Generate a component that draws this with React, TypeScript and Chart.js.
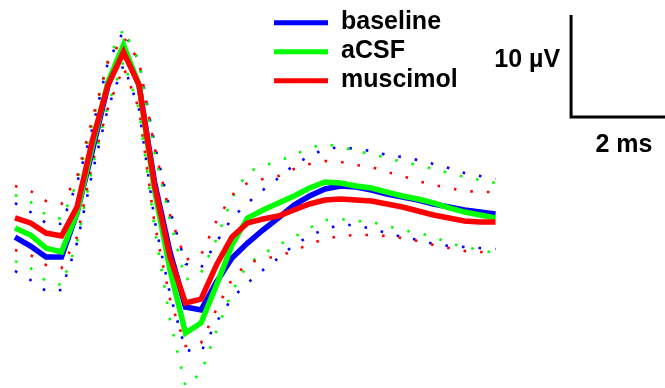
import React, { useEffect, useRef } from "react";
import { Chart, registerables } from "chart.js";

Chart.register(...registerables);

// Time of each sample (ms)
const timeMs = [
  0, 0.32, 0.64, 0.96, 1.28, 1.6, 1.92, 2.24, 2.56, 2.88, 3.2, 3.52, 3.84, 4.16, 4.48, 4.8,
  5.12, 5.44, 5.76, 6.08, 6.4, 6.72, 7.04, 7.36, 7.68, 8.0, 8.32, 8.64, 8.96, 9.28, 9.6, 9.92,
];

// Mean waveforms (µV)
const baselineMean = [
  -3.63, -4.51, -5.59, -5.59, -1.27, 4.9, 11.27, 14.9, 11.27, 1.76, -5.1, -10.49, -10.78, -8.04, -5.69, -4.22,
  -2.94, -1.76, -0.49, 0.39, 1.08, 1.37, 1.27, 0.98, 0.59, 0.29, 0.0, -0.39, -0.69, -0.98, -1.18, -1.37,
];
const acsfMean = [
  -2.75, -3.43, -4.71, -5.1, -1.27, 5.39, 11.57, 15.2, 11.27, 0.98, -6.86, -13.04, -12.06, -8.33, -4.41, -1.76,
  -0.98, -0.29, 0.39, 1.18, 1.76, 1.67, 1.37, 1.18, 0.78, 0.39, 0.1, -0.29, -0.78, -1.18, -1.47, -1.76,
];
const muscimolMean = [
  -1.76, -2.25, -3.24, -3.53, -0.69, 5.88, 11.27, 14.51, 11.27, 1.47, -5.59, -10.1, -9.71, -6.37, -3.63, -2.25,
  -1.86, -1.57, -0.98, -0.39, 0.0, 0.1, 0.0, -0.1, -0.39, -0.69, -1.08, -1.47, -1.76, -2.06, -2.16, -2.16,
];

// Standard error of the mean (µV)
const baselineSem = [
  3.33, 3.33, 3.33, 3.24, 2.94, 2.16, 2.25, 1.67, 2.35, 3.73, 4.12, 4.22, 4.12, 3.92, 3.92, 3.92,
  3.92, 3.92, 3.92, 3.92, 3.92, 3.82, 3.73, 3.82, 3.82, 3.92, 3.92, 3.92, 3.82, 3.63, 3.53, 3.43,
];
const acsfSem = [
  3.24, 3.24, 3.24, 3.24, 2.94, 2.16, 2.25, 1.57, 2.35, 3.73, 4.9, 5.2, 4.9, 4.51, 4.61, 4.51,
  4.31, 4.12, 4.02, 3.92, 3.73, 3.53, 3.43, 3.33, 3.33, 3.33, 3.33, 3.33, 3.43, 3.43, 3.43, 3.43,
];
const muscimolSem = [
  3.14, 3.14, 3.14, 3.14, 2.94, 2.16, 2.25, 1.47, 2.35, 3.73, 4.12, 4.22, 4.31, 4.31, 4.12, 3.92,
  3.92, 3.92, 4.02, 3.92, 3.82, 3.63, 3.43, 3.33, 3.14, 3.04, 2.94, 2.94, 2.94, 2.94, 2.94, 2.94,
];

const seriesNames = ["baseline", "aCSF", "muscimol"];
const seriesColors = ["#0000ff", "#00ff00", "#ff0000"];

// Scale bar (data units)
const scaleBarStartMs = 11.48;
const scaleBarStartUv = 8.14;
const scaleBarMs = 2;
const scaleBarUv = 10;

const W = 665;
const H = 388;
const FONT = "bold 25px 'Liberation Sans', Arial, sans-serif";

function toPoints(values: number[]) {
  return values.map((v, i) => ({ x: timeMs[i], y: v }));
}

const overlayPlugin = {
  id: "overlay",
  afterDraw(chart: any) {
    const ctx = chart.ctx as CanvasRenderingContext2D;
    const xs = chart.scales.x;
    const ys = chart.scales.y;
    ctx.save();
    // legend
    const legendY = [22.7, 51.7, 80.7];
    seriesNames.forEach((name, i) => {
      ctx.strokeStyle = seriesColors[i];
      ctx.lineWidth = 5;
      ctx.lineCap = "butt";
      ctx.beginPath();
      ctx.moveTo(274, legendY[i]);
      ctx.lineTo(328, legendY[i]);
      ctx.stroke();
      ctx.fillStyle = "#000";
      ctx.font = FONT;
      ctx.textAlign = "left";
      ctx.textBaseline = "alphabetic";
      ctx.fillText(name, 341, legendY[i] + 6);
    });
    // scale bar
    const x0 = xs.getPixelForValue(scaleBarStartMs);
    const x1 = xs.getPixelForValue(scaleBarStartMs + scaleBarMs);
    const y0 = ys.getPixelForValue(scaleBarStartUv);
    const y1 = ys.getPixelForValue(scaleBarStartUv + scaleBarUv);
    ctx.strokeStyle = "#000";
    ctx.lineWidth = 3;
    ctx.lineCap = "butt";
    ctx.lineJoin = "miter";
    ctx.beginPath();
    ctx.moveTo(x0, y1);
    ctx.lineTo(x0, y0);
    ctx.lineTo(x1, y0);
    ctx.stroke();
    ctx.fillStyle = "#000";
    ctx.font = FONT;
    ctx.textAlign = "right";
    ctx.fillText("10 µV", x0 - 11, 67);
    ctx.textAlign = "center";
    ctx.fillText("2 ms", 624, 152);
    ctx.restore();
  },
};

export default function App() {
  const ref = useRef<HTMLCanvasElement | null>(null);
  useEffect(() => {
    if (!ref.current) return;
    const means = [baselineMean, acsfMean, muscimolMean];
    const sems = [baselineSem, acsfSem, muscimolSem];
    const datasets: any[] = [];
    means.forEach((m, i) => {
      const upper = m.map((v, j) => v + sems[i][j]);
      const lower = m.map((v, j) => v - sems[i][j]);
      [upper, lower].forEach((b, k) => {
        datasets.push({
          label: seriesNames[i] + (k === 0 ? " +SEM" : " -SEM"),
          data: toPoints(b),
          borderColor: seriesColors[i],
          borderWidth: 2.6,
          borderDash: [2.6, 14],
          borderCapStyle: "butt",
          pointRadius: 0,
          fill: false,
          tension: 0,
          order: 10 - i,
        });
      });
    });
    means.forEach((m, i) => {
      datasets.push({
        label: seriesNames[i],
        data: toPoints(m),
        borderColor: seriesColors[i],
        borderWidth: 5.5,
        borderJoinStyle: "miter",
        pointRadius: 0,
        fill: false,
        tension: 0,
        order: 2 - i,
      });
    });
    const chart = new Chart(ref.current, {
      type: "line",
      data: { datasets },
      options: {
        animation: false,
        responsive: false,
        devicePixelRatio: 1,
        layout: { padding: 0 },
        plugins: { legend: { display: false }, tooltip: { enabled: false }, title: { display: false } },
        scales: {
          x: { type: "linear", display: false, min: -0.3097, max: 13.419 },
          y: { type: "linear", display: false, min: -18.431, max: 19.608 },
        },
        events: [],
      },
      plugins: [overlayPlugin],
    });
    return () => chart.destroy();
  }, []);
  return (
    <div style={{ position: "fixed", left: 0, top: 0, width: W, height: H, background: "#fff" }}>
      <canvas ref={ref} width={W} height={H} style={{ display: "block", width: W, height: H }} />
    </div>
  );
}
